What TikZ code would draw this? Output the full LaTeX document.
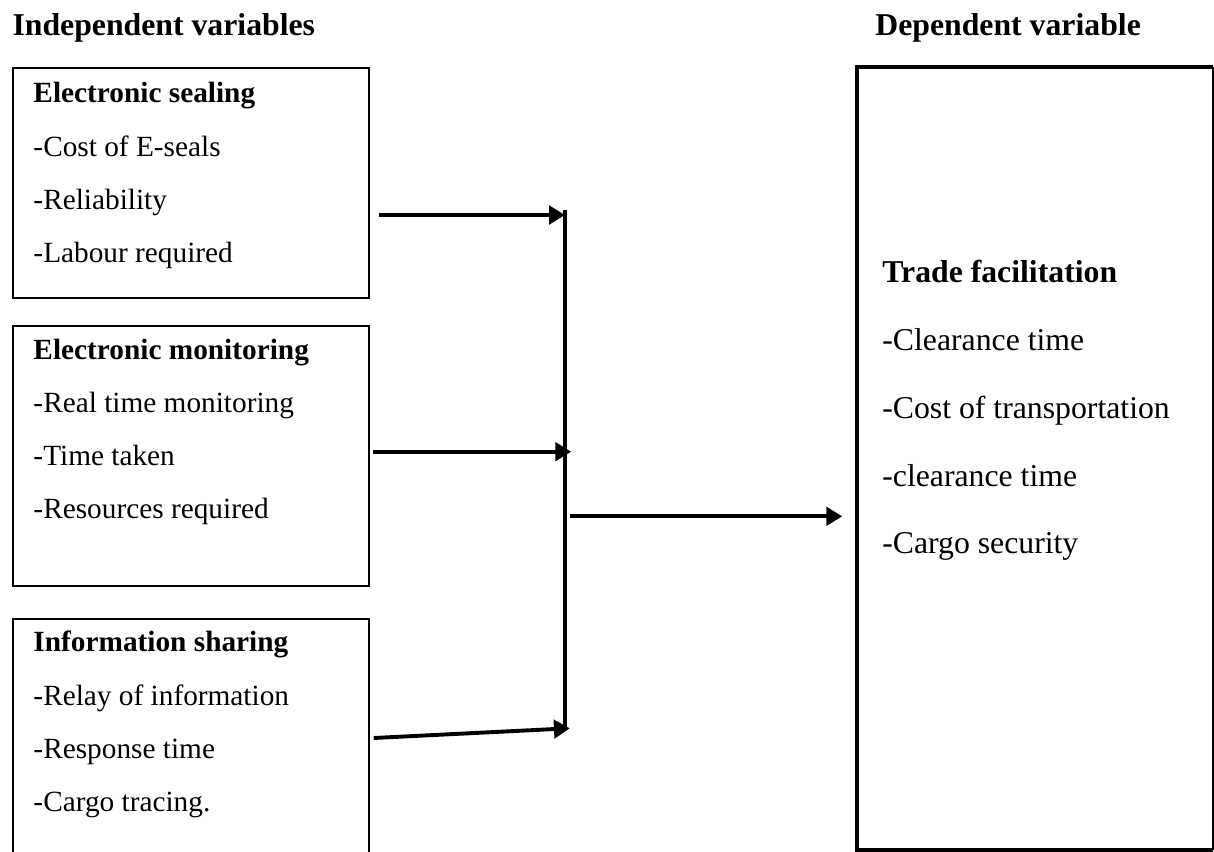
\documentclass[tikz,border=0pt]{standalone}
\usepackage{fontspec}
\setmainfont{Liberation Serif}
\usetikzlibrary{arrows.meta}
\tikzset{
	varbox/.style={draw, line width=0.8pt, minimum width=5.123cm, anchor=north west, inner sep=0pt},
	item/.style={anchor=base west, inner sep=0pt, font=\fontsize{12}{14}\selectfont},
	itemhead/.style={item, font=\fontsize{12}{14}\selectfont\bfseries},
	bigitem/.style={anchor=base west, inner sep=0pt, font=\fontsize{13}{15}\selectfont},
	bighead/.style={bigitem, font=\fontsize{13}{15}\selectfont\bfseries},
	flow/.style={line width=1.6pt, -{Triangle[length=6.5pt,width=7.5pt]}}
}
\begin{document}
\begin{tikzpicture}
	\path[use as bounding box, clip] (0,0) rectangle (17.47,-12.26);
	% headings
	\node[bighead] (indep) at (0.173,-0.504) {Independent variables};
	\node[bighead] (dep) at (12.59,-0.504) {Dependent variable};
	% independent variables
	\node[varbox, minimum height=3.31cm] (seal) at (0.173,-0.964) {};
	\node[varbox, minimum height=3.741cm] (monit) at (0.173,-4.677) {};
	\node[varbox, minimum height=5cm] (share) at (0.173,-8.893) {};
	\node[itemhead] (seal-0) at ([shift={(0.302,-0.518)}]seal.north west) {Electronic sealing};
	\foreach \txt [count=\i] in {-Cost of E-seals, -Reliability, -Labour required}
		\node[item] (seal-\i) at ([shift={(0.302,-0.518-0.763*\i)}]seal.north west) {\txt};
	\node[itemhead] (monit-0) at ([shift={(0.302,-0.489)}]monit.north west) {Electronic monitoring};
	\foreach \txt [count=\i] in {-Real time monitoring, -Time taken, -Resources required}
		\node[item] (monit-\i) at ([shift={(0.302,-0.489-0.763*\i)}]monit.north west) {\txt};
	\node[itemhead] (share-0) at ([shift={(0.302,-0.489)}]share.north west) {Information sharing};
	\foreach \txt [count=\i] in {-Relay of information, -Response time, -Cargo tracing.}
		\node[item] (share-\i) at ([shift={(0.302,-0.489-0.763*\i)}]share.north west) {\txt};
	% dependent variable
	\node[minimum width=5.11cm, minimum height=11.25cm, anchor=north west, inner sep=0pt] (trade) at (12.33,-0.964) {};
	\draw[line width=1.6pt] (trade.north east) -- (trade.north west) -- (trade.south west) -- (trade.south east);
	\draw[line width=0.5pt] (trade.north east) -- (trade.south east);
	\node[bighead] (trade-0) at ([shift={(0.36,-3.108)}]trade.north west) {Trade facilitation};
	\foreach \txt [count=\i] in {-Clearance time, -Cost of transportation, -clearance time, -Cargo security}
		\node[bigitem] (trade-\i) at ([shift={(0.36,-3.108-0.975*\i)}]trade.north west) {\txt};
	% junction
	\coordinate (jtop) at (8.13,-3.02);
	\coordinate (jbot) at (8.13,-10.48);
	\coordinate (in1) at (8.13,-3.094);
	\coordinate (in2) at (8.22,-6.50);
	\coordinate (in3) at (8.20,-10.48);
	\coordinate (hub) at (8.20,-7.43);
	\draw[line width=1.4pt] (jtop) -- (jbot);
	\draw[flow] ([xshift=0.13cm]seal.east |- in1) -- (in1);
	\draw[flow] ([xshift=0.04cm]monit.east |- in2) -- (in2);
	\draw[flow] ([shift={(0.054,-1.727)}]share.north east) -- (in3);
	\draw[flow] (hub) -- ([xshift=-0.21cm]hub -| trade.west);
\end{tikzpicture}
\end{document}
